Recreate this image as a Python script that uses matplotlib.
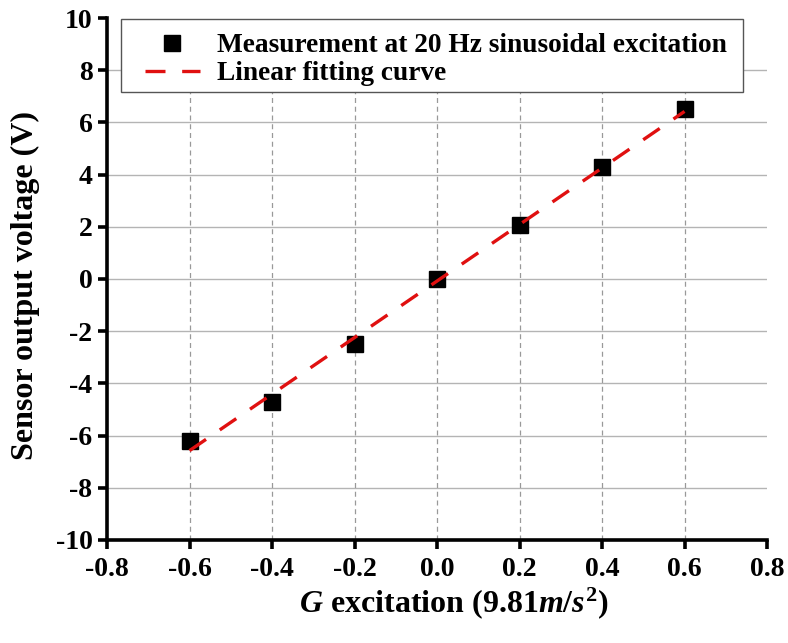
import numpy as np
import matplotlib
matplotlib.use("Agg")
import matplotlib.pyplot as plt
from matplotlib.patches import Rectangle

# data
g_excitation = [-0.6, -0.4, -0.2, 0.0, 0.2, 0.4, 0.6]
voltage = [-6.2, -4.7, -2.5, 0.0, 2.05, 4.3, 6.5]
x_ticks = [-0.8, -0.6, -0.4, -0.2, 0.0, 0.2, 0.4, 0.6, 0.8]
y_ticks = [-10, -8, -6, -4, -2, 0, 2, 4, 6, 8, 10]

plt.rcParams['font.family'] = ['Liberation Serif', 'DejaVu Serif']
plt.rcParams['font.weight'] = 'bold'
plt.rcParams['mathtext.fontset'] = 'custom'
plt.rcParams['mathtext.rm'] = 'Liberation Serif:bold'
plt.rcParams['mathtext.it'] = 'Liberation Serif:italic:bold'
plt.rcParams['mathtext.bf'] = 'Liberation Serif:bold'

fig = plt.figure(figsize=(7.88, 6.43), dpi=100)
ax = fig.add_axes([0.1358, 0.1602, 0.9734 - 0.1358, 0.972 - 0.1602])

# linear fit of the measured points
slope, icpt = np.polyfit(g_excitation, voltage, 1)
xf = np.array([g_excitation[0], g_excitation[-1]])

ax.plot(g_excitation, voltage, 's', color='black', markersize=11,
        label='Measurement at 20 Hz sinusoidal excitation', zorder=3)
ax.plot(xf, slope * xf + icpt, color='#e01010', lw=2.4, dashes=(6, 5),
        label='Linear fitting curve', zorder=4)

ax.set_xlim(-0.8, 0.8)
ax.set_ylim(-10, 10)
ax.set_xticks(x_ticks)
ax.set_yticks(y_ticks)
ax.set_xticklabels(['%.1f' % v for v in x_ticks])
ax.set_yticklabels([str(v) for v in y_ticks])

# grid: solid horizontal, dashed vertical
for v in y_ticks[1:-1]:
    ax.axhline(v, color='#b4b4b4', lw=1.0, zorder=0)
for v in x_ticks[1:-1]:
    ax.axvline(v, color='#999999', lw=0.9, ls=(0, (4, 3)), zorder=0)

for s in ['top', 'right']:
    ax.spines[s].set_visible(False)
for s in ['left', 'bottom']:
    ax.spines[s].set_linewidth(2.6)
ax.tick_params(direction='out', length=6.5, width=2.6, labelsize=20)
ax.tick_params(axis='x', pad=6)
ax.tick_params(axis='y', pad=4)

ax.set_xlabel('$G$ excitation (9.81$m/s^{\\mathbf{2}}$)', fontsize=23, fontweight='bold')
ax.set_ylabel('Sensor output voltage (V)', fontsize=23, fontweight='bold')
ax.xaxis.set_label_coords(0.525, -0.086)
ax.yaxis.set_label_coords(-0.102, 0.487)

# legend box drawn by hand, wider on the left like the original
ax.add_patch(Rectangle((0.0212, 0.858), 0.9424, 0.14, transform=ax.transAxes,
                       facecolor='white', edgecolor='#555555', lw=1.0, zorder=5))
leg = ax.legend(loc='upper left', bbox_to_anchor=(0.047, 0.984), fontsize=19.7,
                frameon=False, handlelength=2.0, borderpad=0.25,
                labelspacing=0.1, handletextpad=0.62, borderaxespad=0)
leg.set_zorder(6)

fig.savefig('out.png', dpi=100)
